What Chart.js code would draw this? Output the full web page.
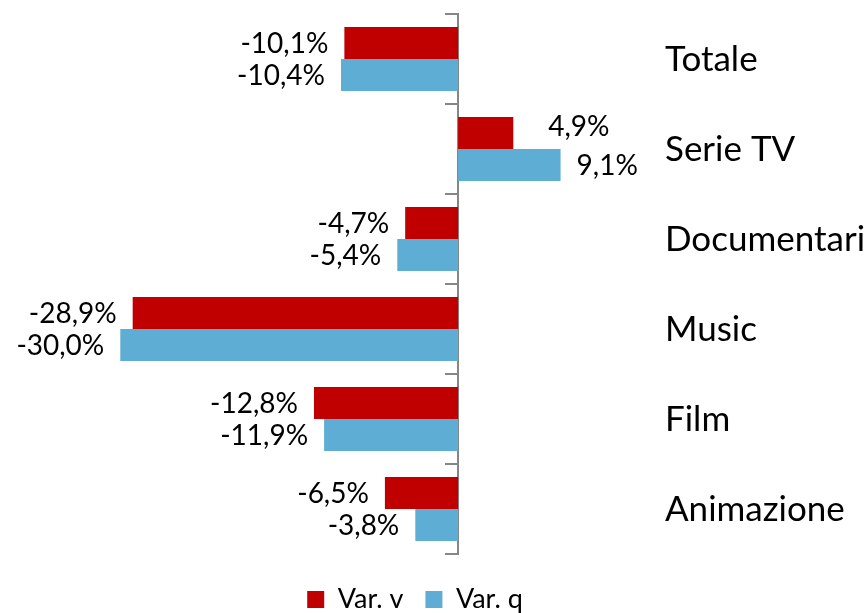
<!DOCTYPE html>
<html>
<head>
<meta charset="utf-8">
<script src="https://cdn.jsdelivr.net/npm/chart.js@4"></script>
<style>
  html, body { margin:0; padding:0; background:#fff; }
  #wrap { width:865px; height:613px; }
</style>
</head>
<body>
<div id="wrap"><canvas id="chart" width="865" height="613"></canvas></div>
<script>
// ---- Data ----
const categories = ["Totale", "Serie TV", "Documentari", "Music", "Film", "Animazione"];
const varV = [-10.1, 4.9, -4.7, -28.9, -12.8, -6.5];
const varQ = [-10.4, 9.1, -5.4, -30.0, -11.9, -3.8];
const seriesNames = ["Var. v", "Var. q"];

// ---- Helpers ----
const fmtPct = (n)=> n.toFixed(1).replace('.', ',') + '%';
const FONT = 'Lato, "Open Sans", sans-serif';

// one label was moved by hand in the original
const labelNudge = { '0-1': { dx: 19, dy: -7 } };

const valueLabels = {
  id: 'valueLabels',
  afterDatasetsDraw(chart){
    const ctx = chart.ctx;
    ctx.save();
    ctx.font = '28px ' + FONT;
    ctx.fillStyle = '#000';
    ctx.textBaseline = 'middle';
    chart.data.datasets.forEach((ds, di)=>{
      chart.getDatasetMeta(di).data.forEach((bar, i)=>{
        const v = ds.data[i];
        const nudge = labelNudge[di + '-' + i] || { dx:0, dy:0 };
        ctx.textAlign = v < 0 ? 'right' : 'left';
        const x = v < 0 ? bar.x - 16 : bar.x + 16;
        ctx.fillText(fmtPct(v), x + nudge.dx, bar.y + 1 + nudge.dy);
      });
    });
    ctx.restore();
  }
};

// category names sit to the right of the plot, one per band of the y scale
const categoryLabels = {
  id: 'categoryLabels',
  afterDraw(chart){
    const ctx = chart.ctx, y = chart.scales.y;
    ctx.save();
    ctx.font = '35px ' + FONT;
    ctx.fillStyle = '#000';
    ctx.textAlign = 'left';
    ctx.textBaseline = 'middle';
    chart.data.labels.forEach((lbl, i)=>{
      ctx.fillText(lbl, chart.chartArea.right + 38, y.getPixelForValue(i) + 1);
    });
    ctx.restore();
  }
};

new Chart(document.getElementById('chart'), {
  type: 'bar',
  data: {
    labels: categories,
    datasets: [
      { label: seriesNames[0], data: varV, backgroundColor: '#C00000', borderWidth: 0 },
      { label: seriesNames[1], data: varQ, backgroundColor: '#5DADD5', borderWidth: 0 }
    ]
  },
  options: {
    indexAxis: 'y',
    responsive: false,
    animation: false,
    layout: { padding: { top: 14, left: 64, right: 99, bottom: -10 } },
    datasets: { bar: { categoryPercentage: 0.71, barPercentage: 1 } },
    plugins: {
      legend: {
        position: 'bottom',
        labels: { font: { family: FONT, size: 27 }, color: '#000', boxWidth: 17, boxHeight: 17, padding: 22 }
      },
      tooltip: { enabled: false }
    },
    scales: {
      x: {
        min: -35, max: 15,
        ticks: { display: false },
        grid: { display: false },
        border: { display: false },
        afterFit: (s)=> { s.height = 10; }
      },
      y: {
        position: { x: 0 },
        offset: true,
        ticks: { display: false },
        grid: { offset: true, drawOnChartArea: false, tickLength: 12, color: '#868686', lineWidth: 2 },
        border: { color: '#868686', width: 2 }
      },
      // empty right axis, only keeps room for the category names
      y2: {
        type: 'category',
        position: 'right',
        offset: true,
        grid: { display: false },
        border: { display: false },
        ticks: { display: false },
        afterFit: (s)=> { s.width = 139; }
      }
    }
  },
  plugins: [valueLabels, categoryLabels]
});
</script>
</body>
</html>
